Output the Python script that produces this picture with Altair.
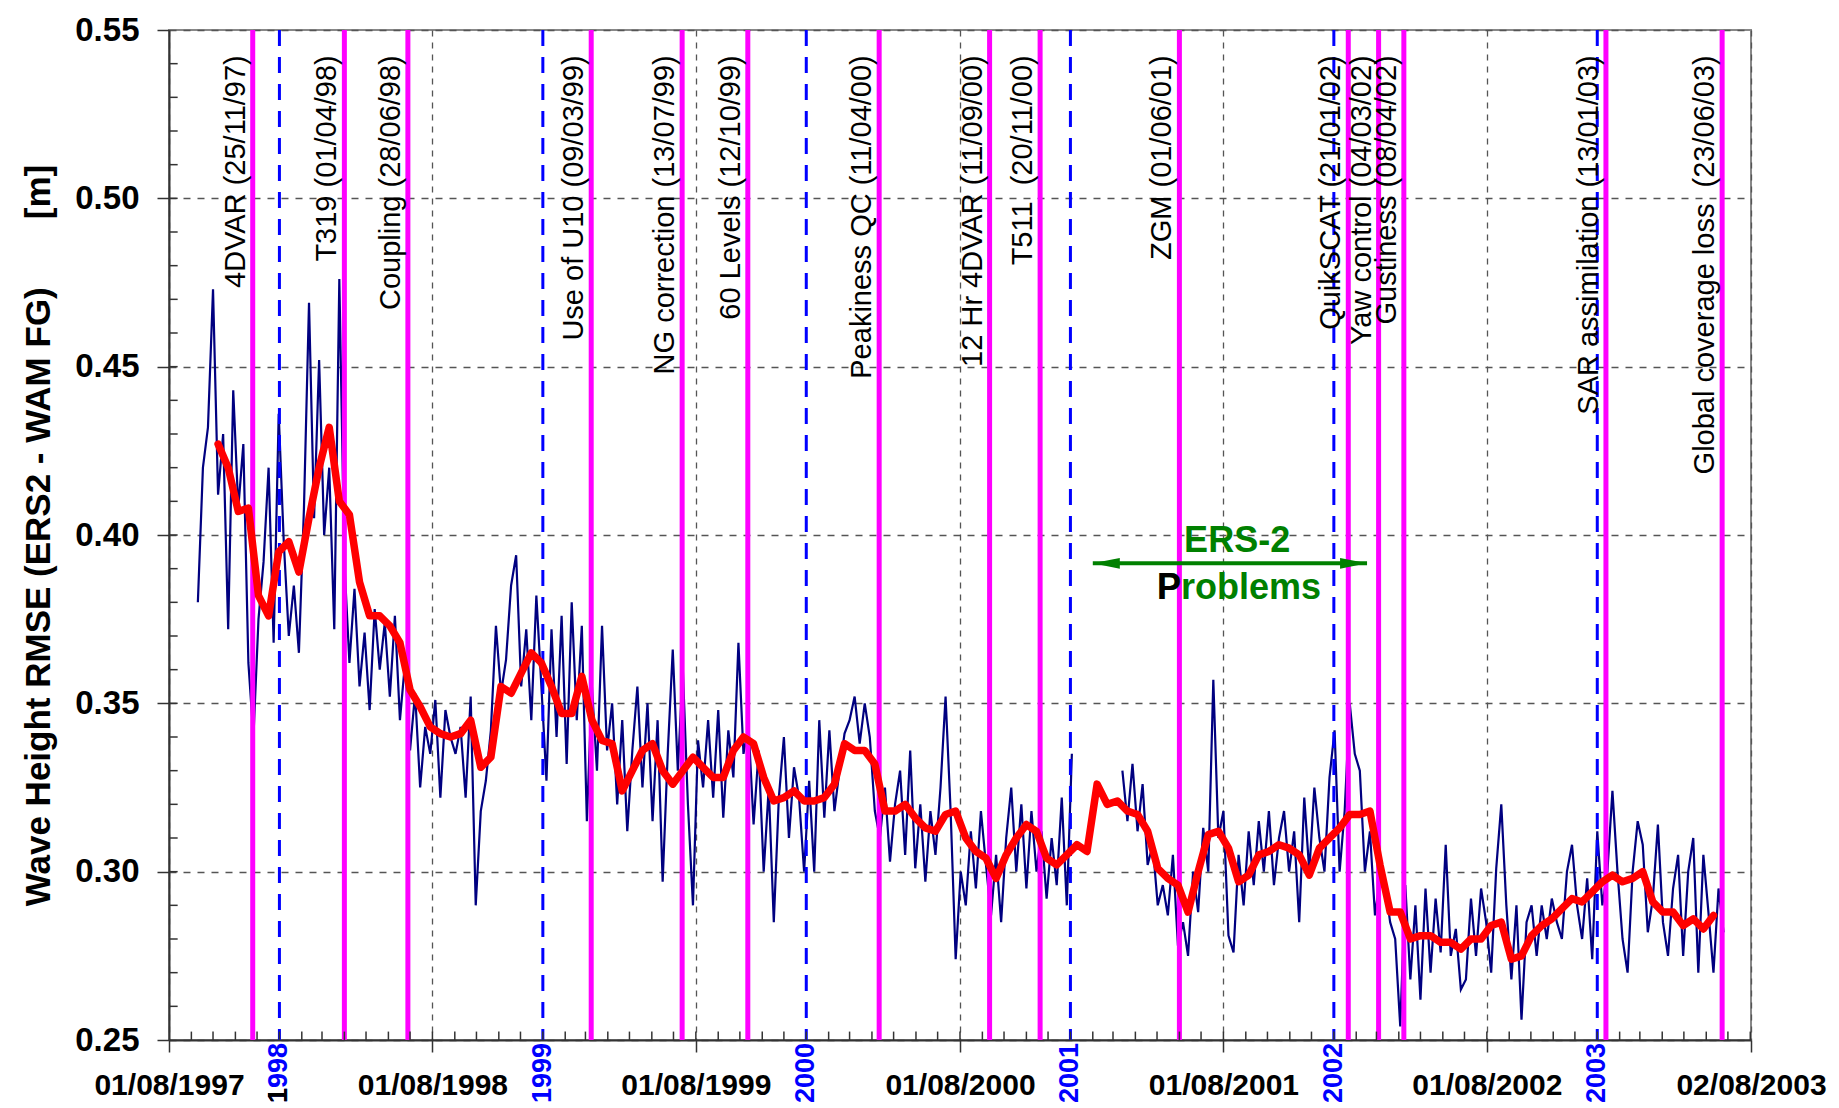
import altair as alt
import pandas as pd

W, H = 1582, 1010

# weekly wave-height RMSE (ERS2 - WAM first guess), starting 10/09/1997; None = no data
blue_start = "1997-09-10"
blue_rmse = [
    0.380, 0.420, 0.432, 0.473, 0.412, 0.430, 0.372, 0.443, 0.408, 0.427,
    0.362, 0.340, 0.375, 0.392, 0.420, 0.368, 0.436, 0.398, 0.370, 0.385,
    0.365, 0.408, 0.469, 0.405, 0.452, 0.400, 0.420, 0.372, 0.476, 0.392,
    0.362, 0.384, 0.355, 0.371, 0.348, 0.378, 0.360, 0.374, 0.352, 0.376,
    0.345, 0.362, 0.336, 0.353, 0.325, 0.343, 0.335, 0.351, 0.322, 0.348,
    0.340, 0.335, 0.343, 0.322, 0.352, 0.290, 0.318, 0.327, 0.342, 0.373,
    0.353, 0.363, 0.385, 0.394, 0.355, 0.372, 0.345, 0.382, 0.355, 0.327,
    0.372, 0.340, 0.376, 0.332, 0.380, 0.345, 0.373, 0.315, 0.355, 0.330,
    0.373, 0.336, 0.350, 0.320, 0.345, 0.312, 0.336, 0.355, 0.325, 0.350,
    0.315, 0.345, 0.297, 0.335, 0.366, 0.330, 0.360, 0.320, 0.290, 0.339,
    0.325, 0.345, 0.322, 0.348, 0.316, 0.342, 0.328, 0.368, 0.335, 0.343,
    0.314, 0.336, 0.300, 0.325, 0.285, 0.322, 0.340, 0.310, 0.331, 0.322,
    0.300, 0.327, 0.300, 0.345, 0.316, 0.342, 0.318, 0.330, 0.341, 0.345,
    0.352, 0.338, 0.350, 0.340, 0.318, 0.310, 0.325, 0.303, 0.320, 0.330,
    0.305, 0.336, 0.301, 0.320, 0.297, 0.318, 0.305, 0.325, 0.352, 0.318,
    0.274, 0.300, 0.290, 0.312, 0.295, 0.318, 0.302, 0.287, 0.305, 0.285,
    0.310, 0.325, 0.300, 0.320, 0.295, 0.318, 0.300, 0.312, 0.292, 0.310,
    0.296, 0.322, 0.290, 0.335, None, None, None, None, None, None,
    None, None, None, 0.330, 0.315, 0.332, 0.312, 0.326, 0.302, 0.308,
    0.290, 0.296, 0.287, 0.305, 0.278, 0.285, 0.275, 0.300, 0.288, 0.313,
    0.300, 0.357, 0.310, 0.318, 0.281, 0.276, 0.305, 0.290, 0.312, 0.296,
    0.315, 0.300, 0.318, 0.296, 0.310, 0.318, 0.300, 0.312, 0.285, 0.322,
    0.300, 0.325, 0.310, 0.300, 0.328, 0.342, 0.300, 0.318, 0.350, 0.335,
    0.330, 0.300, 0.312, 0.287, 0.298, 0.296, 0.285, 0.280, 0.254, 0.296,
    0.268, 0.290, 0.262, 0.295, 0.270, 0.292, 0.276, 0.308, 0.275, 0.283,
    0.265, 0.268, 0.292, 0.275, 0.295, 0.285, 0.270, 0.301, 0.320, 0.290,
    0.268, 0.290, 0.256, 0.285, 0.290, 0.275, 0.290, 0.280, 0.292, 0.285,
    0.280, 0.300, 0.308, 0.290, 0.280, 0.298, 0.274, 0.312, 0.290, 0.300,
    0.324, 0.300, 0.280, 0.270, 0.300, 0.315, 0.308, 0.282, 0.292, 0.314,
    0.285, 0.275, 0.295, 0.305, 0.275, 0.300, 0.310, 0.270, 0.305, 0.288,
    0.270, 0.295, 0.282,
]

# running mean, every 14 days from 08/10/1997
red_start = "1997-10-08"
red_rmse = [
    0.427, 0.420, 0.407, 0.408, 0.382, 0.376, 0.395, 0.398, 0.389, 0.405,
    0.420, 0.432, 0.410, 0.406, 0.386, 0.376, 0.376, 0.373, 0.368, 0.354,
    0.349, 0.343, 0.341, 0.340, 0.341, 0.345, 0.331, 0.334, 0.355, 0.353,
    0.359, 0.365, 0.362, 0.355, 0.347, 0.347, 0.358, 0.345, 0.339, 0.338,
    0.324, 0.330, 0.336, 0.338, 0.330, 0.326, 0.330, 0.334, 0.331, 0.328,
    0.328, 0.336, 0.340, 0.338, 0.328, 0.321, 0.322, 0.324, 0.321, 0.321,
    0.322, 0.326, 0.338, 0.336, 0.336, 0.332, 0.318, 0.318, 0.320, 0.316,
    0.313, 0.312, 0.317, 0.318, 0.310, 0.306, 0.304, 0.298, 0.305, 0.310,
    0.314, 0.312, 0.304, 0.302, 0.305, 0.308, 0.306, 0.326, 0.320, 0.321,
    0.318, 0.317, 0.312, 0.301, 0.298, 0.296, 0.288, 0.300, 0.311, 0.312,
    0.307, 0.297, 0.299, 0.305, 0.306, 0.308, 0.307, 0.305, 0.299, 0.307,
    0.310, 0.313, 0.317, 0.317, 0.318, 0.302, 0.288, 0.288, 0.280, 0.281,
    0.281, 0.279, 0.279, 0.277, 0.280, 0.280, 0.284, 0.285, 0.274, 0.275,
    0.281, 0.284, 0.286, 0.289, 0.292, 0.291, 0.294, 0.297, 0.299, 0.297,
    0.298, 0.300, 0.291, 0.288, 0.288, 0.284, 0.286, 0.283, 0.287,
]

event_dates = [
    "1997-11-25", "1998-04-01", "1998-06-28", "1999-03-09", "1999-07-13",
    "1999-10-12", "2000-04-11", "2000-09-11", "2000-11-20", "2001-06-01",
    "2002-01-21", "2002-03-04", "2002-04-08", "2003-01-13", "2003-06-23",
]
event_labels = [
    "4DVAR (25/11/97)", "T319 (01/04/98)", "Coupling (28/06/98)",
    "Use of U10 (09/03/99)", "NG correction (13/07/99)", "60 Levels (12/10/99)",
    "Peakiness QC (11/04/00)", "12 Hr 4DVAR (11/09/00)", "T511\u00a0 (20/11/00)",
    "ZGM (01/06/01)", "QuikSCAT (21/01/02)", "Yaw control (04/03/02)",
    "Gustiness (08/04/02)", "SAR assimilation (13/01/03)",
    "Global coverage loss\u00a0 (23/06/03)",
]
year_dates = ["1998-01-01", "1999-01-01", "2000-01-01", "2001-01-01", "2002-01-01", "2003-01-01"]
year_labels = ["1998", "1999", "2000", "2001", "2002", "2003"]
x_tick_dates = [(1997, 8, 1), (1998, 8, 1), (1999, 8, 1), (2000, 8, 1),
                (2001, 8, 1), (2002, 8, 1), (2003, 8, 2)]
y_ticks = [0.25, 0.30, 0.35, 0.40, 0.45, 0.50, 0.55]
y_minor = [round(0.25 + 0.01 * i, 2) for i in range(1, 30)]


def dt(y, m, d):
    return alt.DateTime(year=y, month=m, date=d, utc=True)


blue_df = pd.DataFrame({
    "date": pd.date_range(blue_start, periods=len(blue_rmse), freq="7D").strftime("%Y-%m-%d"),
    "rmse": blue_rmse,
})
blue_df["seg"] = blue_df["rmse"].isna().cumsum()
blue_df = blue_df.dropna()

red_df = pd.DataFrame({
    "date": pd.date_range(red_start, periods=len(red_rmse), freq="14D").strftime("%Y-%m-%d"),
    "rmse": red_rmse,
})
events_df = pd.DataFrame({"date": event_dates, "label": event_labels})
years_df = pd.DataFrame({"date": year_dates, "label": year_labels})
months_df = pd.DataFrame({
    "date": pd.date_range("1997-09-01", "2003-08-01", freq="MS").strftime("%Y-%m-%d")
})
yminor_df = pd.DataFrame({"v": y_minor})

x_scale = alt.Scale(type="utc", domain=[dt(1997, 8, 1), dt(2003, 8, 2)])
y_scale = alt.Scale(domain=[0.25, 0.55], nice=False, zero=False)
FONT = "Liberation Sans"

x_axis = alt.Axis(
    values=[dt(*d) for d in x_tick_dates],
    labelExpr="utcFormat(datum.value, '%d/%m/%Y')",
    title=None, grid=True, gridColor="#555", gridDash=[6, 6], gridWidth=1.3,
    tickSize=12, tickColor="#333", tickWidth=1.5, labelPadding=18,
    labelFont=FONT, labelFontSize=30, labelFontWeight="bold", labelColor="black",
    labelLimit=0, domainColor="#333", domainWidth=2, labelFlush=False, labelOverlap=False,
)
y_axis = alt.Axis(
    values=y_ticks, format=".2f",
    title="Wave Height RMSE (ERS2 - WAM FG)\u00a0\u00a0\u00a0\u00a0\u00a0\u00a0\u00a0[m]",
    titleFont=FONT, titleFontSize=35, titleFontWeight="bold", titleColor="black",
    titlePadding=18,
    grid=True, gridColor="#555", gridDash=[7, 7], gridWidth=1.3,
    tickSize=12, tickColor="#333", tickWidth=1.5, labelPadding=18,
    labelFont=FONT, labelFontSize=33, labelFontWeight="bold", labelColor="black",
    domainColor="#333", domainWidth=2,
)

blue_line = (
    alt.Chart(blue_df)
    .mark_line(color="#000080", strokeWidth=2.2)
    .encode(
        x=alt.X("date:T", scale=x_scale, axis=x_axis),
        y=alt.Y("rmse:Q", scale=y_scale, axis=y_axis),
        detail="seg:N",
    )
)

red_line = (
    alt.Chart(red_df)
    .mark_line(color="#FF0000", strokeWidth=7.5, strokeJoin="round", strokeCap="round")
    .encode(x="date:T", y="rmse:Q")
)

event_rules = (
    alt.Chart(events_df)
    .mark_rule(color="#FF00FF", strokeWidth=5)
    .encode(x="date:T")
)
year_rules = (
    alt.Chart(years_df)
    .mark_rule(color="#0000FF", strokeWidth=3, strokeDash=[16, 11])
    .encode(x="date:T")
)

x_minor = (
    alt.Chart(months_df)
    .mark_rule(color="#333", strokeWidth=1.5)
    .encode(x="date:T", y=alt.datum(0.25), y2=alt.datum(0.2525))
)
y_minor_ticks = (
    alt.Chart(yminor_df)
    .mark_rule(color="#333", strokeWidth=1.5)
    .encode(x=alt.datum(dt(1997, 8, 1)), x2=alt.datum(dt(1997, 8, 13)), y="v:Q")
)

event_text = (
    alt.Chart(events_df)
    .mark_text(angle=270, align="right", baseline="bottom", dy=-2,
               font=FONT, fontSize=29, color="black")
    .encode(x="date:T", y=alt.datum(0.5425), text="label:N")
)

year_text = (
    alt.Chart(years_df)
    .mark_text(angle=270, align="right", baseline="middle", dx=-3,
               font=FONT, fontSize=27, fontWeight="bold", color="#0000FF")
    .encode(x="date:T", y=alt.datum(0.25), text="label:N")
)
# the leading "1" of 1998 is black in the original
year_one = (
    alt.Chart(years_df.iloc[:1])
    .mark_text(angle=270, align="right", baseline="middle", dx=-48.0,
               font=FONT, fontSize=27, fontWeight="bold", color="black")
    .encode(x="date:T", y=alt.datum(0.25), text=alt.value("1"))
)

# ERS-2 problems annotation
GREEN = "#008000"
arrow = (
    alt.Chart()
    .mark_rule(color=GREEN, strokeWidth=4)
    .encode(x=alt.datum(dt(2001, 2, 1)), x2=alt.datum(dt(2002, 2, 16)), y=alt.datum(0.3916))
)
head_left = (
    alt.Chart()
    .mark_point(shape="M 0 0 L 2 -0.4 L 2 0.4 Z", size=729, filled=True, opacity=1, color=GREEN)
    .encode(x=alt.datum(dt(2001, 2, 1)), y=alt.datum(0.3916))
)
head_right = (
    alt.Chart()
    .mark_point(shape="M 0 0 L -2 -0.4 L -2 0.4 Z", size=729, filled=True, opacity=1, color=GREEN)
    .encode(x=alt.datum(dt(2002, 2, 16)), y=alt.datum(0.3916))
)
ers_text = (
    alt.Chart()
    .mark_text(font=FONT, fontSize=36, fontWeight="bold", color=GREEN,
               align="center", baseline="middle")
    .encode(x=alt.datum(dt(2001, 8, 20)), y=alt.datum(0.3981), text=alt.value("ERS-2"))
)
problems_text = (
    alt.Chart()
    .mark_text(font=FONT, fontSize=36, fontWeight="bold", color=GREEN,
               align="left", baseline="middle")
    .encode(x=alt.datum(dt(2001, 5, 1)), y=alt.datum(0.3842), text=alt.value("Problems"))
)
p_text = (
    alt.Chart()
    .mark_text(font=FONT, fontSize=36, fontWeight="bold", color="black",
               align="left", baseline="middle")
    .encode(x=alt.datum(dt(2001, 5, 1)), y=alt.datum(0.3842), text=alt.value("P"))
)

chart = (
    alt.layer(
        blue_line, event_rules, year_rules, x_minor, y_minor_ticks,
        red_line, event_text, year_text, year_one,
        arrow, head_left, head_right, ers_text, problems_text, p_text,
    )
    .properties(
        width=W, height=H,
        autosize=alt.AutoSizeParams(type="none"),
        padding={"left": 161, "top": 22, "right": 80, "bottom": 67},
        background="white",
    )
    .configure_view(stroke="#888", strokeWidth=2)
)

chart.save("out.html", embed_options={"renderer": "svg", "actions": False})
